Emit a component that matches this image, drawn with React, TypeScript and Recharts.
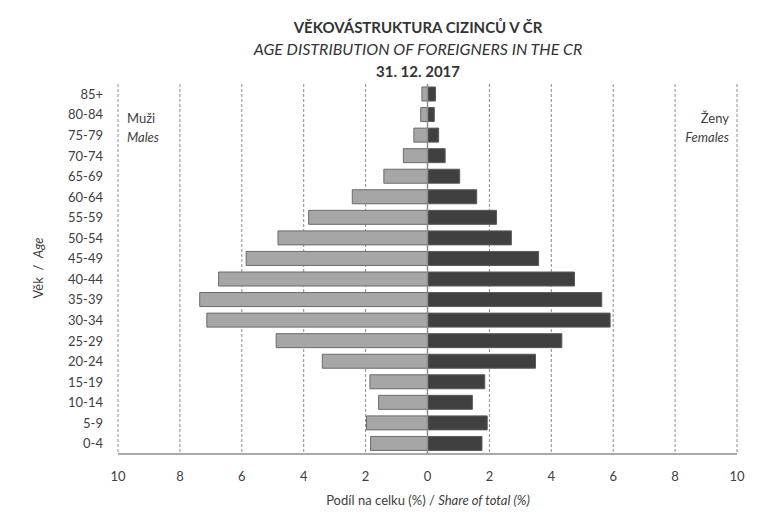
import React from 'react';
import {
  BarChart,
  Bar,
  XAxis,
  YAxis,
  CartesianGrid,
  ReferenceLine
} from 'recharts';

// age groups, bottom to top
const ageGroups = [
  '0-4', '5-9', '10-14', '15-19', '20-24', '25-29', '30-34', '35-39', '40-44',
  '45-49', '50-54', '55-59', '60-64', '65-69', '70-74', '75-79', '80-84', '85+'
];

// share of total (%)
const males = [
  1.84, 1.97, 1.58, 1.86, 3.4, 4.89, 7.13, 7.36, 6.75,
  5.86, 4.83, 3.84, 2.43, 1.41, 0.78, 0.44, 0.22, 0.18
];
const females = [
  1.76, 1.93, 1.45, 1.85, 3.49, 4.34, 5.9, 5.63, 4.75,
  3.59, 2.71, 2.23, 1.59, 1.04, 0.57, 0.36, 0.22, 0.26
];

const xTicks = [-10, -8, -6, -4, -2, 0, 2, 4, 6, 8, 10];

const data = ageGroups.map((age, i) => ({
  age,
  male: -males[i],
  female: females[i]
}));

const FONT = 'Lato, "Open Sans", sans-serif';
const TEXT = '#404040';

const abs = (v: number) => String(Math.abs(v));

export default function App() {
  return (
    <div style={{ position: 'absolute', left: 0, top: 0, width: 775, height: 516, background: '#fff', fontFamily: FONT, color: TEXT }}>
      <BarChart
        width={775}
        height={516}
        data={data}
        layout="vertical"
        stackOffset="sign"
        margin={{ top: 84, right: 38, bottom: 32, left: 58 }}
      >
        <CartesianGrid horizontal={false} strokeDasharray="3 2" stroke="#8c8c8c" />
        <XAxis
          type="number"
          domain={[-10, 10]}
          ticks={xTicks}
          tickFormatter={abs}
          tickLine={false}
          tickMargin={12}
          height={30}
          axisLine={{ stroke: '#8c8c8c', strokeWidth: 1.5 }}
          tick={{ fontSize: 13, fill: TEXT, fontFamily: FONT }}
        />
        <YAxis
          type="category"
          dataKey="age"
          reversed
          width={60}
          axisLine={false}
          tickLine={false}
          tickMargin={9}
          interval={0}
          tick={{ fontSize: 13, fill: TEXT, fontFamily: FONT }}
        />
        <ReferenceLine x={0} stroke="#8c8c8c" strokeWidth={1.5} />
        <Bar dataKey="male" stackId="a" barSize={14} fill="#a6a6a6" stroke="#6b6b6b" strokeWidth={1} isAnimationActive={false} />
        <Bar dataKey="female" stackId="a" barSize={14} fill="#404040" stroke="#5a5a5a" strokeWidth={1} isAnimationActive={false} />
      </BarChart>

      <div style={{ position: 'absolute', left: 0, width: 836, top: 16, textAlign: 'center', lineHeight: '22px', fontSize: 15, color: '#333' }}>
        <div style={{ fontWeight: 'bold' }}>VĚKOVÁSTRUKTURA CIZINCŮ V ČR</div>
        <div style={{ fontStyle: 'italic', fontSize: 16 }}>AGE DISTRIBUTION OF FOREIGNERS IN THE CR</div>
        <div style={{ fontWeight: 'bold' }}>31. 12. 2017</div>
      </div>

      <div style={{ position: 'absolute', left: 127, top: 109, fontSize: 13, lineHeight: '19px' }}>
        <div>Muži</div>
        <div style={{ fontStyle: 'italic' }}>Males</div>
      </div>
      <div style={{ position: 'absolute', right: 775 - 729, top: 109, fontSize: 13, lineHeight: '19px', textAlign: 'right' }}>
        <div>Ženy</div>
        <div style={{ fontStyle: 'italic' }}>Females</div>
      </div>

      <div style={{ position: 'absolute', left: 0, width: 856, top: 492, textAlign: 'center', fontSize: 13 }}>
        Podíl na celku (%) / <span style={{ fontStyle: 'italic' }}>Share of total (%)</span>
      </div>

      <div style={{ position: 'absolute', left: 38, top: 268, width: 0, height: 0 }}>
        <div style={{ position: 'absolute', transform: 'translate(-50%, -50%) rotate(-90deg)', whiteSpace: 'nowrap', fontSize: 13 }}>
          Věk&nbsp;&nbsp;/&nbsp;&nbsp;<span style={{ fontStyle: 'italic' }}>Age</span>
        </div>
      </div>
    </div>
  );
}
